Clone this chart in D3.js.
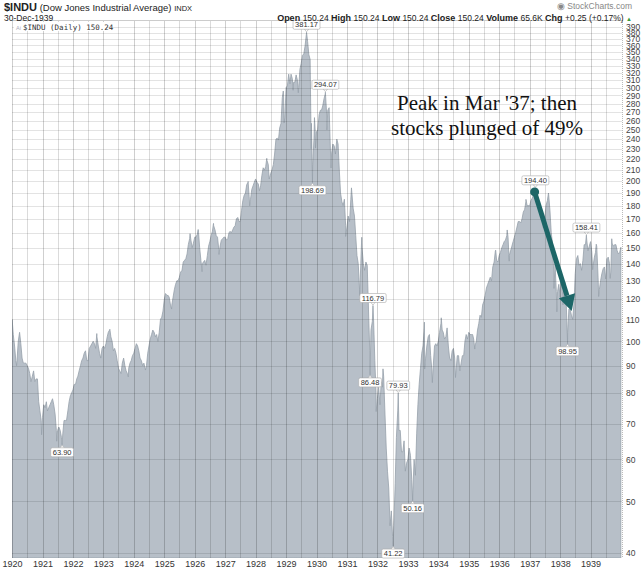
<!DOCTYPE html>
<html>
<head>
<meta charset="utf-8">
<script src="https://cdn.jsdelivr.net/npm/d3@7"></script>
<style>
  body { margin: 0; background: #fff; }
  svg { display: block; font-family: "Liberation Sans", Arial, sans-serif; }
</style>
</head>
<body>
<svg width="644" height="570"></svg>
<script>
// Dow Jones closes, twice a month (1st and 16th), one line per year
var halfMonthly = [
  107, 103, 98, 92, 92, 100, 104, 99, 93, 91, 91, 91, 90, 89, 87, 84, 86, 88, 84, 85, 85, 77, 74, 71,          // 1920
  72, 76, 75, 77, 74, 75, 76, 77, 78, 76, 73, 68, 68, 69, 68, 66, 67, 71, 71, 71, 74, 77, 79, 80,              // 1921
  81, 83, 83, 85, 86, 88, 90, 92, 93, 95, 96, 92, 92, 97, 98, 99, 100, 99, 97, 102, 98, 95, 93, 97,            // 1922
  98, 97, 99, 102, 104, 105, 102, 100, 96, 97, 95, 92, 89, 88, 87, 91, 93, 90, 88, 87, 89, 91, 92, 94,         // 1923
  95, 97, 99, 98, 96, 93, 92, 90, 91, 89, 90, 95, 98, 101, 103, 105, 104, 102, 103, 100, 104, 110, 111, 114,   // 1924
  120, 123, 122, 122, 121, 117, 117, 121, 125, 128, 130, 130, 132, 135, 136, 141, 142, 143, 146, 152, 156, 155, 150, 153, // 1925
  157, 157, 159, 160, 150, 142, 140, 141, 142, 139, 145, 151, 154, 158, 161, 165, 162, 158, 157, 149, 151, 155, 156, 157, // 1926
  157, 155, 156, 160, 161, 160, 162, 164, 165, 170, 171, 168, 168, 176, 184, 188, 190, 197, 199, 187, 185, 193, 196, 199, // 1927
  202, 199, 198, 192, 196, 205, 212, 210, 213, 219, 215, 203, 207, 210, 215, 225, 240, 241, 239, 252, 257, 287, 292, 263, // 1928
  300, 302, 318, 305, 318, 312, 307, 307, 317, 310, 300, 325, 333, 345, 347, 359, 378, 366, 346, 339, 257, 215, 240, 248, // 1929
  248, 250, 267, 272, 272, 277, 286, 292, 270, 272, 275, 230, 226, 235, 233, 225, 240, 235, 210, 190, 183, 180, 185, 165, // 1930
  164, 172, 168, 185, 190, 178, 172, 158, 145, 140, 125, 140, 150, 140, 136, 141, 139, 115, 96, 105, 109, 110, 92, 80,    // 1931
  78, 82, 76, 84, 82, 86, 73, 63, 57, 53, 45, 48, 43, 45, 54, 66, 74, 68, 68, 62, 62, 65, 57, 59,              // 1932
  60, 63, 61, 55, 52, 60, 56, 67, 76, 83, 89, 95, 98, 106, 93, 98, 102, 103, 94, 88, 90, 98, 99, 98,           // 1933
  100, 104, 108, 105, 104, 101, 102, 106, 98, 93, 92, 96, 97, 93, 88, 94, 94, 88, 91, 94, 94, 100, 103, 101,   // 1934
  104, 103, 103, 103, 101, 98, 100, 105, 108, 112, 111, 117, 119, 122, 126, 128, 130, 132, 130, 138, 141, 148, 142, 141, // 1935
  145, 147, 150, 152, 154, 155, 158, 157, 145, 148, 151, 154, 157, 160, 164, 168, 168, 167, 170, 175, 177, 183, 180, 180, // 1936
  180, 184, 186, 189, 188, 190, 186, 178, 174, 173, 173, 167, 170, 180, 184, 189, 176, 160, 153, 135, 140, 124, 124, 128, // 1937
  121, 130, 122, 130, 129, 117, 104, 115, 115, 112, 110, 118, 134, 143, 145, 139, 140, 136, 142, 152, 152, 155, 148, 151, // 1938
  154, 147, 139, 144, 147, 151, 132, 125, 130, 134, 137, 138, 131, 143, 144, 140, 135, 153, 151, 152, 152, 148, 146, 147  // 1939
];

// extra turning points between the half-month readings
var swingDates = ["1920-01-03", "1920-02-25", "1920-12-21", "1921-06-20", "1922-10-14", "1923-03-20",
  "1923-10-27", "1924-05-20", "1925-03-30", "1925-11-06", "1926-02-11", "1926-03-30", "1926-08-14",
  "1926-10-19", "1927-10-03", "1927-10-22", "1928-05-14", "1928-06-12", "1928-11-28", "1928-12-08",
  "1929-03-26", "1929-05-27", "1929-10-29", "1929-12-07", "1929-12-20", "1930-05-05", "1930-06-24",
  "1930-12-16", "1931-02-24", "1931-06-02", "1931-06-27", "1931-12-17", "1932-03-08", "1933-07-18",
  "1933-07-21", "1933-10-21", "1934-02-05", "1934-07-26", "1935-03-14", "1935-11-20", "1936-04-06",
  "1936-04-30", "1936-11-17", "1937-06-14", "1937-08-14", "1937-10-19", "1937-11-23", "1938-01-15",
  "1938-02-04", "1939-01-26", "1939-03-10", "1939-04-08", "1939-08-24", "1939-09-12", "1939-12-30"];
var swingValues = [109.88, 89.98, 66.75, 64.90, 103.43, 105.38,
  85.76, 88.33, 115.00, 159.39, 162.31, 135.20, 166.64,
  145.66, 199.78, 179.78, 220.88, 201.96, 295.62, 257.33,
  296.51, 293.42, 230.07, 263.46, 230.89, 249.82, 211.84,
  157.51, 194.36, 121.70, 156.93, 73.79, 88.78, 108.67,
  88.71, 83.64, 110.74, 85.51, 96.71, 148.44, 161.99,
  141.53, 184.90, 163.31, 190.02, 125.73, 113.64, 134.95,
  117.13, 136.42, 152.28, 121.44, 131.33, 155.92, 150.24];

// highs and lows that carry a value tag on the chart
var labelDates = ["1921-08-24", "1929-09-03", "1929-11-13", "1930-04-17", "1931-10-05", "1931-11-09",
  "1932-07-08", "1932-09-07", "1933-02-27", "1937-03-10", "1938-03-31", "1938-11-12"];
var labelValues = [63.90, 381.17, 198.69, 294.07, 86.48, 116.79,
  41.22, 79.93, 50.16, 194.40, 98.95, 158.41];

var yTicks = [40, 50, 60, 70, 80, 90, 100, 110, 120, 130, 140, 150, 160, 170, 180, 190, 200,
  210, 220, 230, 240, 250, 260, 270, 280, 290, 300, 310, 320, 330, 340, 350, 360, 370, 380, 390];
var yearLabels = ["1920", "1921", "1922", "1923", "1924", "1925", "1926", "1927", "1928", "1929",
  "1930", "1931", "1932", "1933", "1934", "1935", "1936", "1937", "1938", "1939"];

// arrow drawn on the chart (date, value)
var arrowFrom = ["1937-03-01", 191];
var arrowTo = ["1938-05-20", 114];

var svg = d3.select("svg"),
    plotL = 12, plotR = 622, plotT = 20, plotB = 558;

var parse = d3.timeParse("%Y-%m-%d");

var x = d3.scaleTime()
    .domain([new Date(1920, 0, 1), new Date(1940, 0, 1)])
    .range([plotL, 621]);

var y = d3.scaleLog()
    .domain([40, 390])
    .range([553, 27]);

// build the series
var series = halfMonthly.map(function(v, i) {
  var yr = 1920 + Math.floor(i / 24), m = Math.floor((i % 24) / 2);
  return {date: new Date(yr, m, i % 2 ? 16 : 1), value: v};
});
swingDates.forEach(function(d, i) { series.push({date: parse(d), value: swingValues[i]}); });
var tagged = labelDates.map(function(d, i) { return {date: parse(d), value: labelValues[i], tag: true}; });
series = series.concat(tagged).sort(function(a, b) { return a.date - b.date; });

svg.append("clipPath").attr("id", "plotclip")
  .append("rect").attr("x", plotL).attr("y", plotT).attr("width", plotR - plotL).attr("height", plotB - plotT);

var plot = svg.append("g").attr("clip-path", "url(#plotclip)");

// area
plot.append("path")
    .datum(series)
    .attr("fill", "#b7bfc8")
    .attr("stroke", "#97a1ab")
    .attr("stroke-width", 0.8)
    .attr("d", d3.area()
      .x(function(d) { return x(d.date); })
      .y0(plotB)
      .y1(function(d) { return y(d.value); }));

// grid on top of the area
plot.append("g")
  .selectAll("line")
  .data(yTicks)
  .enter()
  .append("line")
    .attr("x1", plotL).attr("x2", plotR)
    .attr("y1", function(d) { return Math.round(y(d)) + 0.5; })
    .attr("y2", function(d) { return Math.round(y(d)) + 0.5; })
    .attr("stroke", "rgba(0,0,0,0.11)");

plot.append("g")
  .selectAll("line")
  .data(d3.timeMonth.every(6).range(new Date(1920, 0, 1), new Date(1940, 0, 1)))
  .enter()
  .append("line")
    .attr("x1", function(d) { return Math.round(x(d)) + 0.5; })
    .attr("x2", function(d) { return Math.round(x(d)) + 0.5; })
    .attr("y1", plotT).attr("y2", plotB)
    .attr("stroke", function(d) { return d.getMonth() === 0 ? "rgba(0,0,0,0.19)" : "rgba(0,0,0,0.14)"; });

// right border
svg.append("line")
    .attr("x1", plotR + 0.5).attr("x2", plotR + 0.5)
    .attr("y1", plotT).attr("y2", plotB)
    .attr("stroke", "#bbb").attr("stroke-dasharray", "1,1");
svg.append("line")
    .attr("x1", plotL).attr("x2", plotR)
    .attr("y1", plotT + 0.5).attr("y2", plotT + 0.5)
    .attr("stroke", "#ccc");

// y axis on the right
var yAxis = svg.append("g")
    .attr("transform", "translate(" + (plotR + 2) + ",0)")
    .call(d3.axisRight(y).tickValues(yTicks).tickFormat(d3.format("d")).tickSize(0).tickPadding(2));
yAxis.select(".domain").remove();
yAxis.selectAll("text").attr("font-size", 8.5).attr("fill", "#444").attr("font-family", "Liberation Sans, Arial");

// x axis
var xAxis = svg.append("g")
    .attr("transform", "translate(0," + plotB + ")")
    .call(d3.axisBottom(x)
      .tickValues(yearLabels.map(function(s) { return new Date(+s, 0, 1); }))
      .tickFormat(d3.timeFormat("%Y")).tickSize(0).tickPadding(3));
xAxis.select(".domain").remove();
xAxis.selectAll("text").attr("font-size", 9).attr("fill", "#333").attr("font-family", "Liberation Sans, Arial");

// value tags
var tags = svg.append("g").selectAll("g")
  .data(tagged)
  .enter()
  .append("g")
    .attr("transform", function(d) {
      var i = series.indexOf(d);
      var up = d.value >= series[i - 1].value && d.value >= series[i + 1].value;
      d.up = up;
      return "translate(" + x(d.date) + "," + (y(d.value) + (up ? -7.5 : 7.5)) + ")";
    });

tags.append("path")
    .attr("d", function(d) { return d.up ? "M-2.5,4L0,7L2.5,4Z" : "M-2.5,-4L0,-7L2.5,-4Z"; })
    .attr("fill", "#fff").attr("stroke", "#aaa").attr("stroke-width", 0.6);

tags.append("rect")
    .attr("y", -4.5).attr("height", 9).attr("rx", 1.5)
    .attr("fill", "#fff").attr("stroke", "#aaa").attr("stroke-width", 0.6);

tags.append("text")
    .attr("text-anchor", "middle")
    .attr("y", 2.6)
    .attr("font-size", 7.5)
    .attr("font-family", "Liberation Sans, Arial")
    .attr("fill", "#333")
    .text(function(d) { return d.value.toFixed(2); });

tags.each(function() {
  var w = d3.select(this).select("text").node().getComputedTextLength() + 4;
  d3.select(this).select("rect").attr("x", -w / 2).attr("width", w);
});

// legend inside the plot
var legend = svg.append("g").attr("transform", "translate(14,22)");
legend.append("rect").attr("width", 92).attr("height", 9).attr("fill", "#fff");
legend.append("text")
    .attr("x", 2).attr("y", 7.5)
    .attr("font-size", 5.5).attr("fill", "#aab")
    .text("Ai");
legend.append("text")
    .attr("x", 9).attr("y", 7.5)
    .attr("font-size", 7.5)
    .attr("font-family", "DejaVu Sans Mono, monospace")
    .attr("fill", "#333")
    .text("$INDU (Daily) 150.24");

// header
var title = svg.append("text").attr("x", 4).attr("y", 11).attr("fill", "#222");
title.append("tspan").attr("font-weight", "bold").attr("font-size", 11).text("$INDU");
title.append("tspan").attr("font-size", 9.5).text(" (Dow Jones Industrial Average) ");
title.append("tspan").attr("font-size", 7.5).text("INDX");

svg.append("text").attr("x", 4).attr("y", 20.5)
    .attr("font-size", 8.5).attr("fill", "#222")
    .text("30-Dec-1939");

svg.append("text").attr("x", 632).attr("y", 9)
    .attr("text-anchor", "end").attr("font-size", 8.5).attr("fill", "#888")
    .text("\u25C9 StockCharts.com");

var quote = [["Open", "150.24"], ["High", "150.24"], ["Low", "150.24"], ["Close", "150.24"],
  ["Volume", "65.6K"], ["Chg", "+0.25 (+0.17%)"]];
var q = svg.append("text").attr("x", 632).attr("y", 20.5)
    .attr("text-anchor", "end").attr("font-size", 8.5).attr("fill", "#222");
quote.forEach(function(p) {
  q.append("tspan").attr("font-weight", "bold").attr("font-size", 9).text(p[0] + " ");
  q.append("tspan").text(p[1] + " ");
});
q.append("tspan").attr("fill", "#3a9a3a").attr("font-size", 6).text("\u25B2");

// annotation text
var note = svg.append("text")
    .attr("text-anchor", "middle")
    .attr("font-family", "Liberation Serif, Times New Roman, serif")
    .attr("font-size", 21)
    .attr("fill", "#111");
note.append("tspan").attr("x", 487).attr("y", 110).text("Peak in Mar '37; then");
note.append("tspan").attr("x", 487).attr("y", 135).text("stocks plunged of 49%");

// arrow
var ax0 = x(parse(arrowFrom[0])), ay0 = y(arrowFrom[1]),
    ax1 = x(parse(arrowTo[0])), ay1 = y(arrowTo[1]);
var ang = Math.atan2(ay1 - ay0, ax1 - ax0);
var headLen = 16, headW = 8.5;
var bx = ax1 - headLen * Math.cos(ang), by = ay1 - headLen * Math.sin(ang);
svg.append("line")
    .attr("x1", ax0).attr("y1", ay0).attr("x2", bx).attr("y2", by)
    .attr("stroke", "#1d6667").attr("stroke-width", 5);
svg.append("circle").attr("cx", ax0).attr("cy", ay0).attr("r", 4.5).attr("fill", "#1d6667");
svg.append("path")
    .attr("d", "M" + ax1 + "," + ay1 +
      "L" + (bx - headW * Math.sin(ang)) + "," + (by + headW * Math.cos(ang)) +
      "L" + (bx + headW * Math.sin(ang)) + "," + (by - headW * Math.cos(ang)) + "Z")
    .attr("fill", "#1d6667");
</script>
</body>
</html>
